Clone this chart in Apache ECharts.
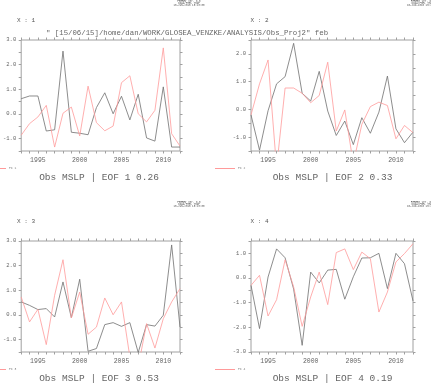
<!DOCTYPE html>
<html><head><meta charset="utf-8">
<script src="https://cdn.jsdelivr.net/npm/echarts@6/dist/echarts.min.js"></script>
<style>html,body{margin:0;padding:0;background:#fff}#c{width:431px;height:384px}</style>
</head><body><div id="c"></div>
<script>
// ---- data ----
const years = [1993,1994,1995,1996,1997,1998,1999,2000,2001,2002,2003,2004,2005,2006,2007,2008,2009,2010,2011,2012];
const panelLabels = ['X : 1','X : 2','X : 3','X : 4'];
const panelTitles = ['Obs MSLP | EOF 1 0.26','Obs MSLP | EOF 2 0.33','Obs MSLP | EOF 3 0.53','Obs MSLP | EOF 4 0.19'];
const legendNames = ['PC 1','PC 2','PC 3','PC 4'];
const pathTitle = '" [15/06/15]/home/dan/WORK/GLOSEA_VENZKE/ANALYSIS/Obs_Proj2" feb';
const headerLines = ['FERRET Ver. 6.8','NOAA/PMEL TMAP','15-JUN-2015 15:23:08'];
const yMins = [-1.5,-1.5,-1.5,-3.0];
const yMaxs = [3.0,2.5,3.0,1.5];

const proj1 = [0.62,0.73,0.73,-0.69,-0.64,2.55,-0.74,-0.78,-0.84,0.26,0.86,0.01,0.72,-0.24,0.80,-0.97,-1.10,1.10,-1.34,-1.34];
const pc1   = [-0.86,-0.39,-0.12,0.35,-1.34,0.03,0.28,-0.89,1.13,-0.35,-0.68,-0.49,1.27,1.55,0.01,-0.32,0.15,2.68,-0.80,-1.30];
const proj2 = [-0.20,-1.47,-0.05,0.92,1.18,2.38,0.58,0.30,1.37,-0.06,-0.94,-0.42,-1.27,-0.30,-0.86,-0.10,1.20,-0.70,-1.20,-0.82];
const pc2   = [-0.20,0.92,1.78,-2.10,0.77,0.77,0.58,0.24,0.50,1.70,-0.78,-0.02,-1.95,-0.54,0.10,0.26,0.14,-1.06,-0.58,-0.84];
const proj3 = [0.53,0.39,0.22,0.26,-0.08,1.34,-0.11,1.45,-1.47,-1.36,-0.39,-0.31,-0.46,-0.31,-1.52,-0.39,-0.45,-0.01,2.84,-0.49];
const pc3   = [0.73,-0.28,0.23,-1.20,0.80,2.24,-0.12,0.93,-0.78,-0.49,0.69,0.01,0.53,-1.70,-2.10,-0.35,-1.34,-0.15,0.53,1.07];
const proj4 = [-0.30,-2.05,0.04,1.18,0.82,-0.45,-2.73,0.24,-0.20,0.32,0.35,-0.86,0.05,0.81,0.82,1.00,-0.43,1.00,0.58,-0.93];
const pc4   = [-0.30,0.11,-1.54,-0.88,0.74,-0.36,-1.96,-0.77,0.24,-1.08,1.03,1.18,0.34,1.05,0.78,-1.38,-0.57,0.65,0.99,1.39];

const projs = [proj1,proj2,proj3,proj4];
const pcs = [pc1,pc2,pc3,pc4];

// ---- layout ----
const grids = [
  {left:17.5, top:40, width:162.5, height:111},
  {left:251, top:40, width:162, height:111},
  {left:17.5, top:241, width:162.5, height:111},
  {left:251, top:241, width:162, height:111}
];
const frameCol = '#a0a0a0';
const txtCol = '#666';
const mono = 'Liberation Mono';
const redCol = '#ff9a9a';

const xAxis = [], yAxis = [], series = [], graphic = [];
grids.forEach((g,i)=>{
  const xBase = {gridIndex:i, type:'value', min:years[0], max:years[years.length-1], interval:1,
    axisLine:{show:false, onZero:false}, splitLine:{show:false},
    axisTick:{show:true, length:2.5, lineStyle:{color:frameCol, width:1}}};
  xAxis.push(Object.assign({}, xBase, {position:'bottom',
    axisLabel:{show:true, margin:6, fontFamily:mono, fontSize:6.5, color:txtCol,
      formatter:v=> (v%5===0 ? String(v) : '')}}));
  xAxis.push(Object.assign({}, xBase, {position:'top', axisLabel:{show:false}}));
  const yBase = {gridIndex:i, type:'value', min:yMins[i], max:yMaxs[i], interval:0.5,
    axisLine:{show:false, onZero:false}, splitLine:{show:false},
    axisTick:{show:true, length:2.5, lineStyle:{color:frameCol, width:1}}};
  yAxis.push(Object.assign({}, yBase, {position:'left',
    axisLabel:{show:true, margin:5, fontFamily:mono, fontSize:5.5, color:txtCol,
      formatter:v=> (Math.abs(v - Math.round(v))<1e-9 ? v.toFixed(1) : '')}}));
  yAxis.push(Object.assign({}, yBase, {position:'right', axisLabel:{show:false}}));

  series.push({type:'line', xAxisIndex:2*i, yAxisIndex:2*i, symbol:'none', clip:true,
    lineStyle:{color:'#707070', width:0.8}, data: years.map((y,k)=>[y, projs[i][k]]), z:2});
  series.push({type:'line', xAxisIndex:2*i, yAxisIndex:2*i, symbol:'none', clip:true,
    lineStyle:{color:redCol, width:0.8}, data: years.map((y,k)=>[y, pcs[i][k]]), z:3});

  const ox = (i%2===0) ? 0 : 233.5;
  const oy = (i<2) ? 0 : 201;
  graphic.push({type:'text', x:17+ox, y:20+oy, style:{text:panelLabels[i], font:'6px '+mono, fill:'#555', textVerticalAlign:'middle'}});
  headerLines.forEach((t,j)=>{
    graphic.push({type:'text', x:189+ox, y:1.5+oy+j*2.1, style:{text:t, font:'2.6px '+mono, fill:'#555', textAlign:'center', textVerticalAlign:'middle'}});
  });
  graphic.push({type:'text', x:(i%2===0?99:332.5), y:177+oy, style:{text:panelTitles[i], font:'9.5px '+mono, fill:'#666', textAlign:'center', textVerticalAlign:'middle'}});
  const lx0 = (i%2===0) ? -14 : 215, lx1 = (i%2===0) ? 6 : 235;
  graphic.push({type:'line', shape:{x1:lx0, y1:168.5+oy, x2:lx1, y2:168.5+oy}, style:{stroke:redCol, lineWidth:1}});
  graphic.push({type:'text', x:(i%2===0?9:238), y:168.5+oy, style:{text:legendNames[i], font:'3px '+mono, fill:'#777', textVerticalAlign:'middle'}});
});
graphic.push({type:'text', x:46, y:33, style:{text:pathTitle, font:'7.35px '+mono, fill:'#666', textVerticalAlign:'middle'}});

const chart = echarts.init(document.getElementById('c'), null, {renderer:'canvas'});
chart.setOption({
  backgroundColor:'#fff',
  animation:false,
  grid: grids.map(g=>Object.assign({show:true, borderColor:frameCol, borderWidth:1, backgroundColor:'transparent'}, g)),
  xAxis, yAxis, series, graphic
});
</script></body></html>
